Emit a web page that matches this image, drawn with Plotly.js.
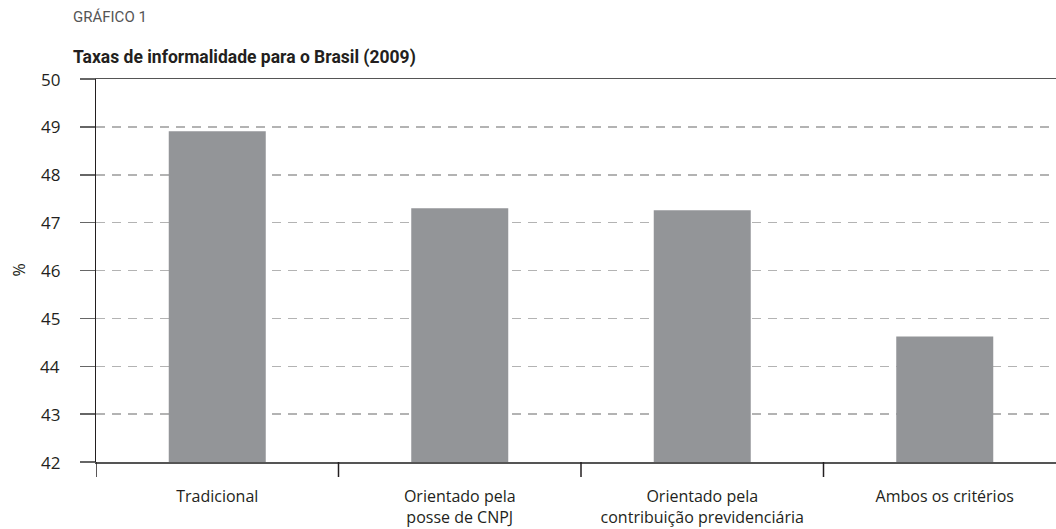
<!DOCTYPE html>
<html>
<head>
<meta charset="utf-8">
<script src="https://cdn.plot.ly/plotly-3.0.1.min.js"></script>
<style>
html,body{margin:0;padding:0;background:#fff;}
#chart{width:1056px;height:529px;}
</style>
</head>
<body>
<div id="chart"></div>
<script>
const categories = ["Tradicional", "Orientado pela<br>posse de CNPJ", "Orientado pela<br>contribuição previdenciária", "Ambos os critérios"];
const values = [48.91, 47.30, 47.26, 44.62];
const yTicks = [42, 43, 44, 45, 46, 47, 48, 49, 50];

const fontFam = "'Open Sans', 'Noto Sans', sans-serif";
const titleFam = "Roboto, 'Open Sans', sans-serif";
const W = 1056, H = 529;
const mL = 96, mR = 0, mT = 79, mB = 67;
const pw = W - mL - mR, ph = H - mT - mB;

const trace = {
  type: 'bar',
  x: [0, 1, 2, 3],
  y: values,
  width: 0.4,
  marker: {color: '#939598', line: {width: 0}},
  hoverinfo: 'skip'
};

const yLabelAnns = yTicks.map(v => ({
  text: String(v),
  xref: 'paper', yref: 'y',
  x: (62 - mL) / pw, xanchor: 'right',
  y: v, yanchor: 'middle',
  showarrow: false,
  font: {family: fontFam, size: 17, color: '#231f20'}
}));

const layout = {
  width: W, height: H,
  margin: {l: mL, r: mR, t: mT, b: mB, pad: 0},
  paper_bgcolor: '#fff', plot_bgcolor: '#fff',
  showlegend: false,
  font: {family: fontFam, color: '#231f20', size: 16},
  title: {
    text: '<b>Taxas de informalidade para o Brasil (2009)</b>',
    font: {family: titleFam, size: 17.5, color: '#231f20'},
    x: 73 / W, xanchor: 'left', xref: 'container',
    y: 1 - 57 / H, yanchor: 'middle', yref: 'container'
  },
  xaxis: {
    type: 'linear',
    range: [-0.5, -0.5 + pw / 242.5],
    tickmode: 'array',
    tickvals: [0, 1, 2, 3],
    ticktext: categories,
    ticks: '',
    showgrid: false,
    zeroline: false,
    showline: true, linecolor: '#555', linewidth: 1.5,
    mirror: true,
    tickfont: {family: fontFam, size: 16, color: '#231f20'},
    ticklabelstandoff: 19
  },
  yaxis: {
    range: [42, 50],
    tickmode: 'array',
    tickvals: yTicks,
    showticklabels: false,
    ticks: 'outside', ticklen: 15, tickcolor: '#666', tickwidth: 1.5,
    showline: true, linecolor: '#231f20', linewidth: 1.5,
    showgrid: true, gridcolor: '#b3b3b3', gridwidth: 1.5, griddash: '9px,7px',
    zeroline: false
  },
  shapes: [0.5, 1.5, 2.5, -0.5].map(v => ({
    type: 'line', xref: 'x', yref: 'paper',
    x0: v, x1: v, y0: 0, y1: -15 / ph,
    line: {color: '#231f20', width: 1.5}
  })),
  annotations: [{
    text: 'GRÁFICO 1',
    xref: 'paper', yref: 'paper',
    x: (71 - mL) / pw, xanchor: 'left',
    y: 1 + (mT - 17) / ph, yanchor: 'middle',
    showarrow: false,
    font: {family: titleFam, size: 15, color: '#555'}
  }, {
    text: '%',
    xref: 'paper', yref: 'paper',
    x: (18 - mL) / pw, xanchor: 'center',
    y: 0.5, yanchor: 'middle',
    textangle: -90,
    showarrow: false,
    font: {family: fontFam, size: 16, color: '#231f20'}
  }].concat(yLabelAnns)
};

Plotly.newPlot('chart', [trace], layout, {displayModeBar: false, staticPlot: true});
</script>
</body>
</html>
